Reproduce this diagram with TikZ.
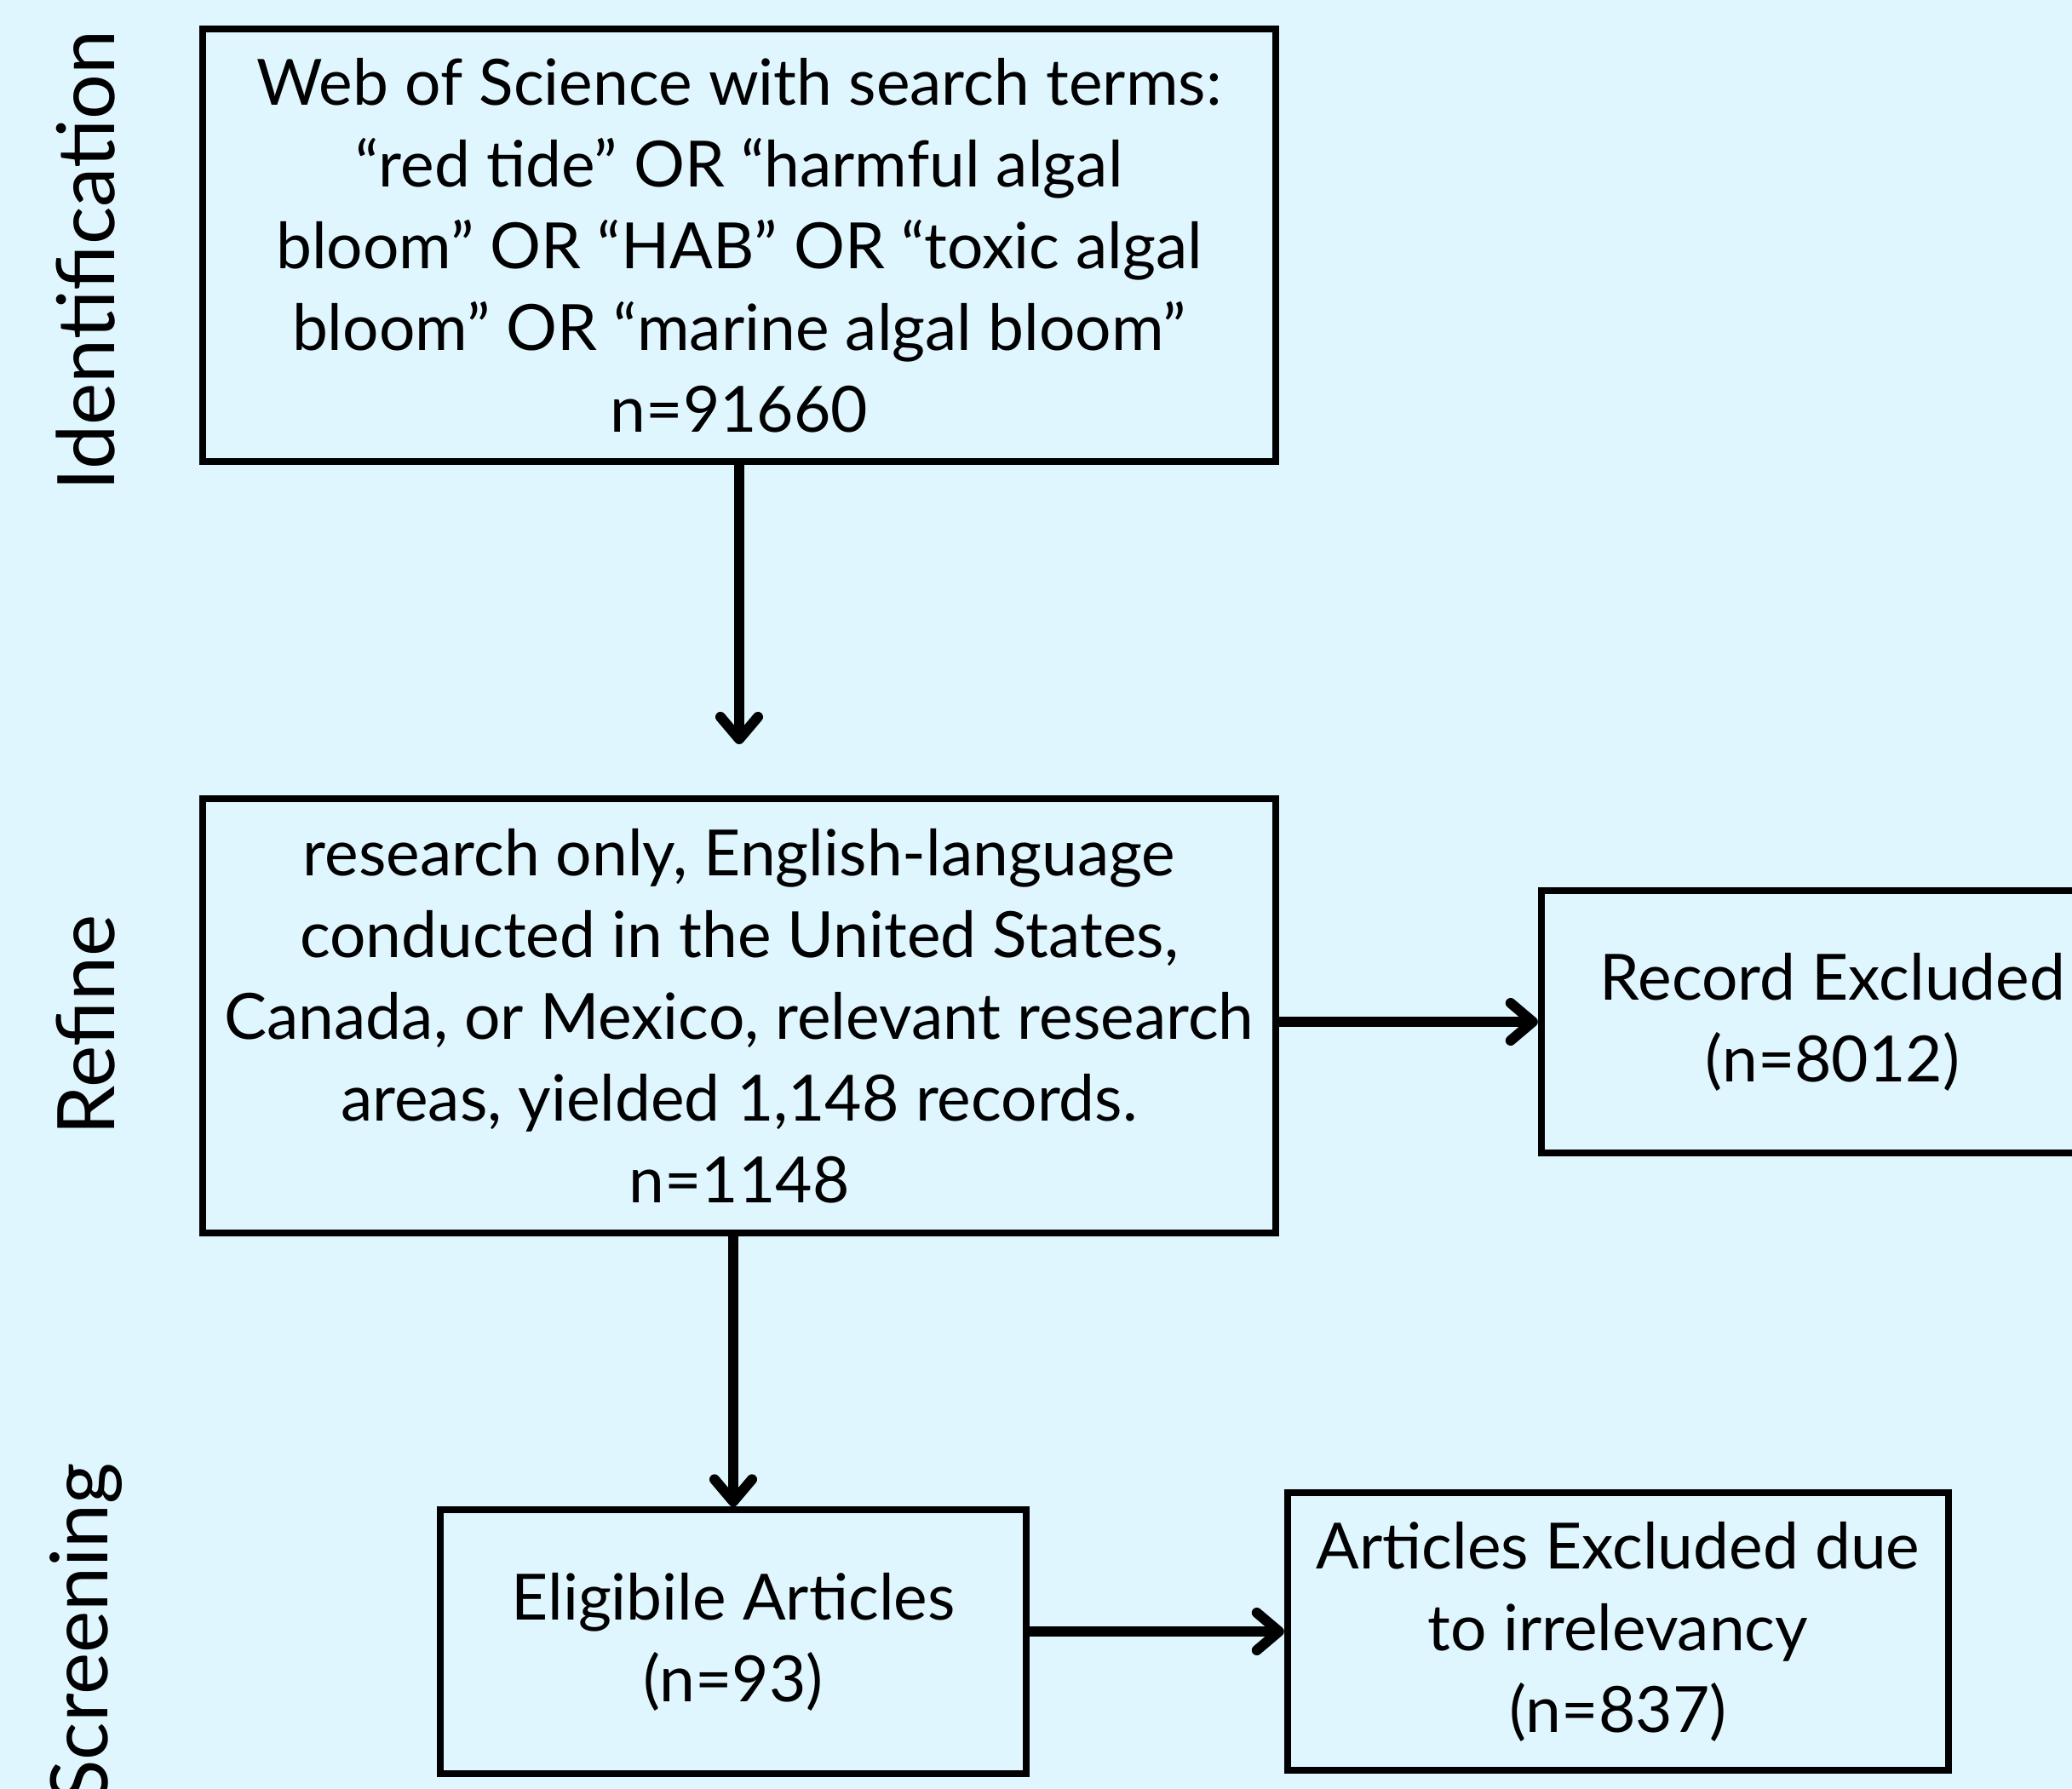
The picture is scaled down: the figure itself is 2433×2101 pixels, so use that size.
\documentclass[tikz,border=0pt]{standalone}
\usepackage{fontspec}
\setmainfont{Lato}
\usetikzlibrary{arrows.meta}
\definecolor{bg}{RGB}{224,246,255}
\tikzset{
  box/.style={draw=black, line width=0.08cm, fill=bg, align=center, inner sep=0pt,
    font=\fontsize{21.3}{27.3}\selectfont},
  conn/.style={line width=0.12cm, -{Straight Barb[length=0.26cm, width=0.44cm, line cap=round, line join=round]}},
  phase/.style={rotate=90, inner sep=0pt, font=\fontsize{26.5}{30}\selectfont}
}
\begin{document}
\begin{tikzpicture}[x=0.01cm, y=-0.01cm]
\path[fill=bg] (0,0) rectangle (2433,2101);
\useasboundingbox (0,0) rectangle (2433,2101);
\clip (0,0) rectangle (2433,2101);

\node[box, minimum width=12.60cm, minimum height=5.07cm] (b1) at (868,288)
  {Web of Science with search terms:\\
   “red tide” OR “harmful algal\\
   bloom” OR “HAB” OR “toxic algal\\
   bloom” OR “marine algal bloom”\\
   n=91660};
\node[box, minimum width=12.60cm, minimum height=5.10cm] (b2) at (868,1193)
  {research only, English-language\\
   conducted in the United States,\\
   Canada, or Mexico, relevant research\\
   areas, yielded 1,148 records.\\
   n=1148};
\node[box, minimum width=6.84cm, minimum height=3.08cm] (b3) at (2152,1200)
  {Record Excluded\\(n=8012)};
\node[box, minimum width=6.88cm, minimum height=3.09cm] (b4) at (861,1928)
  {Eligibile Articles\\(n=93)};
\node[box, minimum width=7.76cm, minimum height=3.25cm] (b5) at (1900,1916)
  {Articles Excluded due\\to irrelevancy\\(n=837)};

\coordinate (a1) at (868,874);
\draw[conn] (b1.south) -- (a1);
\draw[conn] (b3.west -| b2.east) -- (b3.west);
\draw[conn] (b4.north |- b2.south) -- (b4.north);
\draw[conn] (b5.west -| b4.east) -- (b5.west);

\node[phase] (p1) at (101,306) {Identification};
\node[phase] (p2) at (101,1204) {Refine};
\node[phase, anchor=east] (p3) at (101,1717) {Screening};
\end{tikzpicture}
\end{document}
